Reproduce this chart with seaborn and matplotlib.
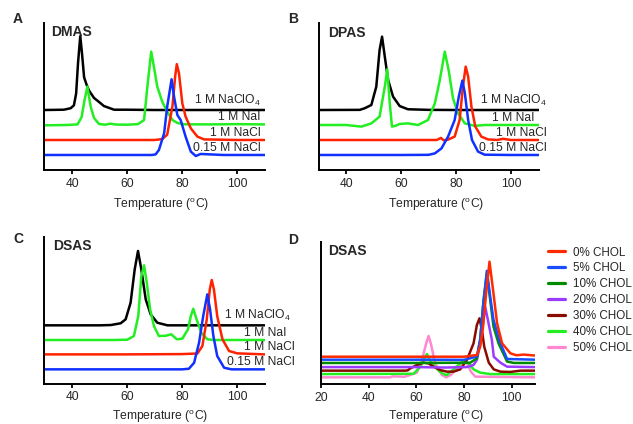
import numpy
import pandas
import seaborn
import matplotlib
matplotlib.use('Agg')
import matplotlib.pyplot as pyplt

# ---- panel A: DMAS ----
a_clo4_T = [30, 37, 39.5, 40.7, 41.5, 42.2, 43, 43.6, 44.4, 45.3, 46.2, 48, 50, 51.6, 55.3, 60, 70, 80, 90, 100, 110]
a_clo4_y = [40.8, 41, 42, 44, 52, 73, 91, 80, 63, 58, 54, 49, 46, 43.5, 41, 41, 40.8, 40.8, 40.8, 40.8, 40.8]
a_nai_T = [30, 38, 42, 43.5, 44.5, 45.6, 46.8, 48, 49.8, 52, 54, 56, 60, 64, 66.2, 67.4, 68.8, 69.8, 71, 72.8,
           74.6, 76.5, 78.3, 80.7, 90, 100, 110]
a_nai_y = [30.4, 30.6, 31, 36, 47, 56.7, 43, 35.4, 31.3, 30.8, 31.5, 30.9, 30.8, 31.2, 34, 56.7, 80.5, 70, 56.7, 46.5,
           39.7, 34, 32, 31.1, 31, 31.2, 31]
a_nacl_T = [30, 50, 70, 72.8, 74.6, 76.5, 77.5, 78.1, 78.9, 80.1, 81.3, 83.2, 85.6, 88, 100, 110]
a_nacl_y = [20.4, 20.4, 20.4, 21, 24, 43, 63.5, 72, 65.8, 45.4, 36.3, 28.3, 22.7, 20.8, 20.4, 20.4]
a_nacl015_T = [30, 50, 69, 70.4, 71.6, 73.5, 74.6, 76.2, 77.1, 78.3, 79.5, 81.3, 83.2, 85, 86.8, 95, 110]
a_nacl015_y = [10.2, 10.2, 10.2, 10.6, 13.6, 25, 43, 61.7, 49.9, 37.4, 34, 22.7, 12.5, 9.5, 10.9, 10.2, 10.2]

# ---- panel B: DPAS ----
b_clo4_T = [30, 45, 46.8, 49.2, 51, 52.2, 53.1, 54.1, 55.3, 57.1, 59.5, 62.5, 70, 80, 90, 100, 110]
b_clo4_y = [40.8, 40.9, 42, 44.2, 56.7, 81.6, 90.7, 77, 61.2, 49.9, 43.5, 41.3, 40.9, 40.8, 40.8, 40.8, 40.8]
b_nai_T = [30, 40, 45.6, 49.2, 52.2, 54.1, 55, 55.9, 56.7, 57.9, 59.5, 62.5, 66.2, 69.8, 72.3, 74.1, 75.9, 77.3,
           78.9, 80.7, 83.2, 86.8, 90.4, 100, 110]
b_nai_y = [30.6, 30.6, 29.5, 31.7, 36.3, 56.7, 68.5, 45.4, 29.5, 30, 31.3, 31.7, 30.6, 34, 45.4, 61.2, 80.5, 68,
           48.8, 38.6, 31.7, 30, 30.6, 30.6, 30.6]
b_nacl_T = [30, 60, 73, 74.5, 75.5, 77, 79.5, 81.3, 82.5, 83.5, 84.4, 85.6, 87, 89.2, 91.6, 95, 97, 100, 110]
b_nacl_y = [20.4, 20.4, 20.4, 21.8, 20.2, 20.6, 22.7, 34, 56.7, 70.3, 63.5, 43, 29.5, 22.7, 20.8, 20.4, 21.2, 20.4, 20.4]
b_nacl015_T = [30, 60, 70, 72.3, 74.7, 77.1, 79.5, 81, 82.3, 83.2, 84.4, 85.8, 88, 90.4, 100, 110]
b_nacl015_y = [10.2, 10.2, 10.3, 11.3, 14.7, 22.7, 34, 49.9, 60.8, 52.2, 34, 20.4, 12.5, 10.4, 10.2, 10.2]

# ---- panel C: DSAS ----
c_clo4_T = [30, 50, 54.1, 57.7, 59.5, 61.3, 62.8, 64, 65.2, 66.8, 68.6, 71, 74.7, 80, 90, 100, 110]
c_clo4_y = [39.8, 39.8, 40, 41.2, 43.9, 55.2, 78, 90.5, 78, 57.5, 47.3, 41.6, 39.8, 39.8, 39.8, 39.8, 39.8]
c_nai_T = [30, 55, 60.1, 62.5, 64.1, 65.2, 66.2, 67.2, 68.4, 69.8, 71.6, 74.1, 76.1, 78.1, 80.1, 82.2, 83.2, 84.1,
           85.3, 87, 89.2, 91.6, 100, 110]
c_nai_y = [29.8, 29.8, 30, 32.5, 46.1, 73.4, 80.7, 68.8, 50.7, 39.3, 32.5, 32.7, 33.7, 30.3, 30.7, 37.1, 46.1, 51.1,
           43.9, 34.8, 30.3, 29.8, 29.8, 29.8]
c_nacl_T = [30, 60, 80, 85.6, 87.4, 89, 90.1, 90.8, 91.6, 92.8, 94.7, 97.1, 100.1, 110]
c_nacl_y = [20, 20, 20.2, 20.6, 25.7, 43.9, 64.3, 70.7, 64.3, 46.1, 30.3, 22.3, 20.7, 20]
c_nacl015_T = [30, 60, 80, 82.5, 84.4, 86.2, 87.7, 89.2, 90.2, 91.4, 92.8, 95.3, 98, 110]
c_nacl015_y = [9.8, 9.8, 9.8, 10.2, 14.3, 28, 46.1, 60.9, 50.7, 32.5, 18.9, 10.9, 9.8, 9.8]

# ---- panel D: DSAS + cholesterol ----
d_chol0_T = [20, 60, 80, 85.4, 86.8, 88, 89.3, 90.7, 92.2, 93.9, 96, 99.5, 102, 105, 110]
d_chol0_y = [19.4, 19.4, 19.4, 20.6, 26.4, 40.5, 64, 86.2, 66.3, 42.9, 28.8, 21.8, 20.4, 20.9, 20.2]
d_chol5_T = [20, 60, 80, 85.4, 86.8, 88, 89.6, 91, 92.4, 95, 98.1, 110]
d_chol5_y = [17.3, 17.3, 17.2, 19.5, 32, 54.5, 79.8, 61.7, 45.2, 30, 17.8, 17.3]
d_chol10_T = [20, 60, 82.6, 85.4, 86.8, 88.2, 89.6, 91, 92.4, 94.5, 98.1, 101, 110]
d_chol10_y = [15, 15, 15.2, 18.2, 31.1, 59.2, 78, 59.2, 40.5, 28.8, 16, 15, 15]
d_chol20_T = [20, 60, 72, 81.2, 84, 85.4, 86.8, 88, 88.9, 90.3, 91.7, 92.5, 95.3, 98.1, 110]
d_chol20_y = [12.1, 12.1, 11.8, 12.1, 13.6, 17.1, 28.8, 43.8, 54.5, 43, 31.2, 19.4, 15.2, 12.4, 12.1]
d_chol30_T = [20, 55.3, 56.3, 57.4, 60.2, 63, 65.1, 67.2, 70, 72.8, 75.6, 78.4, 81.2, 84, 85.4, 86.5, 87.5, 88.5,
              90.4, 92.5, 95.3, 99.5, 103.7, 110]
d_chol30_y = [9.6, 9.6, 9.8, 11.2, 13.6, 15.2, 14.7, 12.4, 10, 8.9, 8.9, 10.5, 17.1, 28.8, 41.7, 46.4, 38.2, 26.4,
              15.2, 10.5, 8.9, 8.7, 9.6, 9.6]
d_chol40_T = [20, 58.8, 61.6, 63.3, 64.4, 65.5, 67.2, 69.3, 71.4, 72.8, 75.6, 78.4, 80.1, 81.9, 84, 86.8, 91, 110]
d_chol40_y = [7.2, 7.4, 12.3, 18.2, 21.3, 17.1, 13.6, 9.6, 7.2, 6.5, 10.5, 14.7, 16.6, 14.7, 10.5, 8.2, 7.2, 7.2]
d_chol50_T = [20, 48.9, 50, 55, 57.4, 60.2, 62.3, 64.1, 65.1, 66.2, 67.5, 68.9, 70.7, 72.5, 74.5, 77, 79.1, 80.1,
              81.2, 82.9, 84.7, 110]
d_chol50_y = [4.9, 4.9, 5.6, 5.3, 6.6, 8.2, 17.1, 28.8, 34, 27.6, 17.1, 11.2, 6.6, 4.9, 6.6, 11.2, 15.2, 16.6,
              14.7, 8.9, 5.4, 4.9]

salt_labels = [r'1 M NaClO$_4$', '1 M NaI', '1 M NaCl', '0.15 M NaCl']
salt_colors = ['#000000', '#22ee22', '#ff2200', '#1030ff']
chol_labels = ['0% CHOL', '5% CHOL', '10% CHOL', '20% CHOL', '30% CHOL', '40% CHOL', '50% CHOL']
chol_colors = ['#ff2a00', '#1a4dff', '#008a00', '#9a3cff', '#8b0a00', '#22ee22', '#ff88d0']

seaborn.set_style('ticks')
pyplt.rcParams['font.family'] = ['Liberation Sans', 'DejaVu Sans']
pyplt.rcParams['mathtext.fontset'] = 'custom'
pyplt.rcParams['mathtext.rm'] = 'Liberation Sans'
pyplt.rcParams['mathtext.it'] = 'Liberation Sans:italic'
pyplt.rcParams['mathtext.bf'] = 'Liberation Sans:bold'

FS = 8.7
LW = 1.8
fig = pyplt.figure(figsize=(6.33, 4.24), dpi=100)

salt_panels = [
    dict(pos=[0.0703, 0.5991, 0.3476, 0.3467], name='DMAS', letter='A', letter_xy=(18, 19),
         name_xy=(0.028, 0.94), xlab=(0.529, -0.177), text_x=[108.7, 108.7, 108.7, 108.7],
         curves=[(a_clo4_T, a_clo4_y), (a_nai_T, a_nai_y), (a_nacl_T, a_nacl_y), (a_nacl015_T, a_nacl015_y)]),
    dict(pos=[0.5032, 0.5991, 0.3476, 0.3467], name='DPAS', letter='B', letter_xy=(293, 19),
         name_xy=(0.045, 0.93), xlab=(0.535, -0.177), text_x=[113, 108.5, 113, 113],
         curves=[(b_clo4_T, b_clo4_y), (b_nai_T, b_nai_y), (b_nacl_T, b_nacl_y), (b_nacl015_T, b_nacl015_y)]),
    dict(pos=[0.0703, 0.0950, 0.3476, 0.3460], name='DSAS', letter='C', letter_xy=(18, 239),
         name_xy=(0.04, 0.937), xlab=(0.525, -0.165), text_x=[119.5, 118, 121, 121],
         curves=[(c_clo4_T, c_clo4_y), (c_nai_T, c_nai_y), (c_nacl_T, c_nacl_y), (c_nacl015_T, c_nacl015_y)]),
]

xlabel = r'Temperature ($^{\mathrm{o}}$C)'


def style_axis(ax, xlim, ticks):
    ax.set_xlim(*xlim)
    ax.set_ylim(0, 100)
    ax.set_xticks(ticks)
    ax.set_yticks([])
    for s in ['top', 'right']:
        ax.spines[s].set_visible(False)
    for s in ['left', 'bottom']:
        ax.spines[s].set_linewidth(1.4)
        ax.spines[s].set_color('black')
    ax.tick_params(axis='x', length=3, width=1.3, pad=2.5, labelsize=FS, color='black')
    ax.set_ylabel('')
    ax.set_facecolor('none')


for p in salt_panels:
    ax = fig.add_axes(p['pos'])
    for (T, y), color, lab, tx in zip(p['curves'], salt_colors, salt_labels, p['text_x']):
        seaborn.lineplot(x=T, y=y, ax=ax, color=color, lw=LW, estimator=None)
        off = 4.3 if 'ClO' in lab else 3.0
        ax.text(tx, y[-1] + off, lab, ha='right', va='baseline', fontsize=FS, clip_on=False)
    style_axis(ax, (30, 110), [40, 60, 80, 100])
    ax.set_xlabel(xlabel, fontsize=FS)
    ax.xaxis.set_label_coords(*p['xlab'])
    ax.text(*p['name_xy'], p['name'], transform=ax.transAxes, fontsize=10, fontweight='bold', va='center')
    fig.text(p['letter_xy'][0] / 633, 1 - p['letter_xy'][1] / 424, p['letter'], fontsize=10,
             fontweight='bold', ha='center', va='center')

# panel D
axd = fig.add_axes([0.5076, 0.0936, 0.3382, 0.3356])
d_curves = [(d_chol0_T, d_chol0_y), (d_chol5_T, d_chol5_y), (d_chol10_T, d_chol10_y), (d_chol20_T, d_chol20_y),
            (d_chol30_T, d_chol30_y), (d_chol40_T, d_chol40_y), (d_chol50_T, d_chol50_y)]
# draw bottom curves first so the higher-baseline ones sit on top, like the original
for (T, y), color, lab in list(zip(d_curves, chol_colors, chol_labels))[::-1]:
    seaborn.lineplot(x=T, y=y, ax=axd, color=color, lw=LW, estimator=None, label=lab)
style_axis(axd, (20, 110), [20, 40, 60, 80, 100])
axd.set_xlabel(xlabel, fontsize=FS)
axd.xaxis.set_label_coords(0.535, -0.168)
axd.text(0.03, 0.94, 'DSAS', transform=axd.transAxes, fontsize=10, fontweight='bold', va='center')
fig.text(293 / 633, 1 - 239.5 / 424, 'D', fontsize=10, fontweight='bold', ha='center', va='center')

handles, labels = axd.get_legend_handles_labels()
order = [labels.index(l) for l in chol_labels]
leg = axd.legend([handles[i] for i in order], chol_labels, loc='upper left',
                 bbox_to_anchor=(1.06, 0.968), frameon=False, fontsize=8.4, handlelength=1.45,
                 handletextpad=0.65, labelspacing=0.33, borderpad=0, borderaxespad=0)
for h in leg.get_lines():
    h.set_linewidth(2.3)

fig.savefig('out.png', dpi=100)
